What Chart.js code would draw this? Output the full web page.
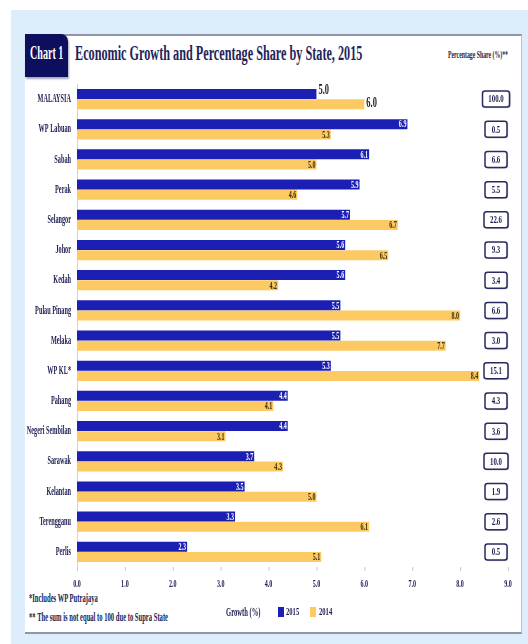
<!DOCTYPE html>
<html>
<head>
<meta charset="utf-8">
<script src="https://cdn.jsdelivr.net/npm/chart.js@4"></script>
<style>
  html, body { margin:0; padding:0; background:#fff; }
  #page { position:relative; width:528px; height:644px; overflow:hidden; font-family:"Liberation Serif", serif; font-weight:bold; color:#1b1b4e; }
  #backdrop { position:absolute; left:11px; top:10px; right:0; bottom:0; background:#deedfb; }
  #card { position:absolute; left:25px; top:34px; width:496px; height:596px; background:#fff;
          border-top:2px solid #8d97a8; border-bottom:2px solid #8d97a8; border-right:1px solid #b9c3d2; }
  #badge { position:absolute; left:25px; top:34px; width:43px; height:43px; background:#0e0e5e;
           border-top-right-radius:7px; box-shadow:1px 2px 2px rgba(60,60,90,.45); }
  .sq { position:absolute; white-space:nowrap; line-height:1; }
  .sq.l { transform-origin:left center; }
  canvas { position:absolute; left:0; top:0; }
</style>
</head>
<body>
<div id="page">
  <div id="backdrop"></div>
  <div id="card"></div>
  <div id="badge"></div>
  <div class="sq l" style="left:30px;top:44px;font-size:18px;color:#fff;transform:scaleX(0.56)">Chart 1</div>
  <div class="sq l" style="left:75px;top:43px;font-size:20px;color:#23235a;transform:scaleX(0.61)">Economic Growth and Percentage Share by State, 2015</div>
  <div class="sq l" style="left:448px;top:50px;font-size:10px;transform:scaleX(0.58)">Percentage Share (%)**</div>
  <div class="sq l" style="left:29px;top:592px;font-size:12px;transform:scaleX(0.55)">*Includes WP Putrajaya</div>
  <div class="sq l" style="left:29px;top:611px;font-size:12px;transform:scaleX(0.55)">** The sum is not equal to 100 due to Supra State</div>
  <canvas id="chart" width="528" height="644"></canvas>
</div>
<script>
const states = ['MALAYSIA','WP Labuan','Sabah','Perak','Selangor','Johor','Kedah','Pulau Pinang',
                'Melaka','WP KL*','Pahang','Negeri Sembilan','Sarawak','Kelantan','Terengganu','Perlis'];
const growth2015 = [5.0, 6.9, 6.1, 5.9, 5.7, 5.6, 5.6, 5.5, 5.5, 5.3, 4.4, 4.4, 3.7, 3.5, 3.3, 2.3];
const growth2014 = [6.0, 5.3, 5.0, 4.6, 6.7, 6.5, 4.2, 8.0, 7.7, 8.4, 4.1, 3.1, 4.3, 5.0, 6.1, 5.1];
const shares = ['100.0','0.5','6.6','5.5','22.6','9.3','3.4','6.6','3.0','15.1','4.3','3.6','10.0','1.9','2.6','0.5'];
const xTicks = [0,1,2,3,4,5,6,7,8,9];

const BLUE = '#1b1fb4', GOLD = '#fcc962', INK = '#1b1b4e';

// narrow bold serif: squeeze horizontally around the anchor point
function squeeze(ctx, text, x, y, size, sx, align, color){
  ctx.save();
  ctx.translate(x, y);
  ctx.scale(sx, 1);
  ctx.font = 'bold ' + size + 'px "Liberation Serif"';
  ctx.fillStyle = color;
  ctx.textAlign = align;
  ctx.textBaseline = 'middle';
  ctx.fillText(text, 0, 0);
  ctx.restore();
}

function roundRect(ctx, x, y, w, h, r){
  ctx.beginPath();
  ctx.moveTo(x+r, y);
  ctx.arcTo(x+w, y, x+w, y+h, r);
  ctx.arcTo(x+w, y+h, x, y+h, r);
  ctx.arcTo(x, y+h, x, y, r);
  ctx.arcTo(x, y, x+w, y, r);
  ctx.closePath();
}

const axisText = {
  id:'axisText',
  afterDraw(chart){
    const ctx = chart.ctx, xs = chart.scales.x, ys = chart.scales.y;
    const bottom = chart.chartArea.bottom;
    // state names
    states.forEach((s,i)=>{
      squeeze(ctx, s, 71, ys.getPixelForValue(i), 12, 0.52, 'right', INK);
    });
    // growth ticks
    xTicks.forEach(v=>{
      const px = xs.getPixelForValue(v);
      ctx.strokeStyle = '#c8c8d0';
      ctx.lineWidth = 1;
      ctx.beginPath(); ctx.moveTo(px+0.5, bottom); ctx.lineTo(px+0.5, bottom+4); ctx.stroke();
      squeeze(ctx, v.toFixed(1), px, bottom+17, 11, 0.55, 'center', INK);
    });
    // percentage share boxes
    shares.forEach((s,i)=>{
      const cy = ys.getPixelForValue(i);
      const w = s.length > 4 ? 27 : (s.length > 3 ? 24 : 22);
      const x0 = 496 - w/2, y0 = cy - 8;
      ctx.save();
      ctx.shadowColor = 'rgba(40,40,80,0.35)';
      ctx.shadowOffsetX = 1; ctx.shadowOffsetY = 1; ctx.shadowBlur = 1;
      roundRect(ctx, x0, y0, w, 16, 2.5);
      ctx.fillStyle = '#fff'; ctx.fill();
      ctx.restore();
      roundRect(ctx, x0, y0, w, 16, 2.5);
      ctx.strokeStyle = '#2a2a62'; ctx.lineWidth = 1.5; ctx.stroke();
      squeeze(ctx, s, 496, cy+0.5, 11, 0.62, 'center', INK);
    });
    // legend
    squeeze(ctx, 'Growth (%)', 226, 613, 12, 0.55, 'left', INK);
    ctx.fillStyle = BLUE; ctx.fillRect(278, 607, 6, 10);
    squeeze(ctx, '2015', 286, 612, 11, 0.6, 'left', INK);
    ctx.fillStyle = GOLD; ctx.fillRect(310, 607, 6, 10);
    squeeze(ctx, '2014', 319, 612, 11, 0.6, 'left', INK);
  }
};

const barValues = {
  id:'barValues',
  afterDatasetsDraw(chart){
    const ctx = chart.ctx;
    chart.data.datasets.forEach((ds, d)=>{
      chart.getDatasetMeta(d).data.forEach((bar, i)=>{
        const txt = ds.data[i].toFixed(1);
        if(i === 0){
          squeeze(ctx, txt, bar.x + 2, bar.y - (d === 0 ? 4 : 1), 14, 0.6, 'left', '#222');
        } else {
          squeeze(ctx, txt, bar.x - 1, bar.y + 0.5, 11, 0.55, 'right', d === 0 ? '#fff' : '#3a2c05');
        }
      });
    });
  }
};

new Chart(document.getElementById('chart'), {
  type:'bar',
  data:{
    labels: states,
    datasets:[
      {label:'2015', data: growth2015, backgroundColor: BLUE},
      {label:'2014', data: growth2014, backgroundColor: GOLD}
    ]
  },
  options:{
    indexAxis:'y',
    responsive:false,
    animation:false,
    events:[],
    layout:{padding:{left:69, right:20, top:84, bottom:69}},
    datasets:{bar:{categoryPercentage:0.68, barPercentage:0.97}},
    scales:{
      x:{min:0, max:9, ticks:{display:false}, grid:{display:false}, border:{display:false}},
      y:{ticks:{display:false}, grid:{display:false}, border:{display:true, color:'#cfd2da', width:1}}
    },
    plugins:{legend:{display:false}, tooltip:{enabled:false}}
  },
  plugins:[axisText, barValues]
});
</script>
</body>
</html>
